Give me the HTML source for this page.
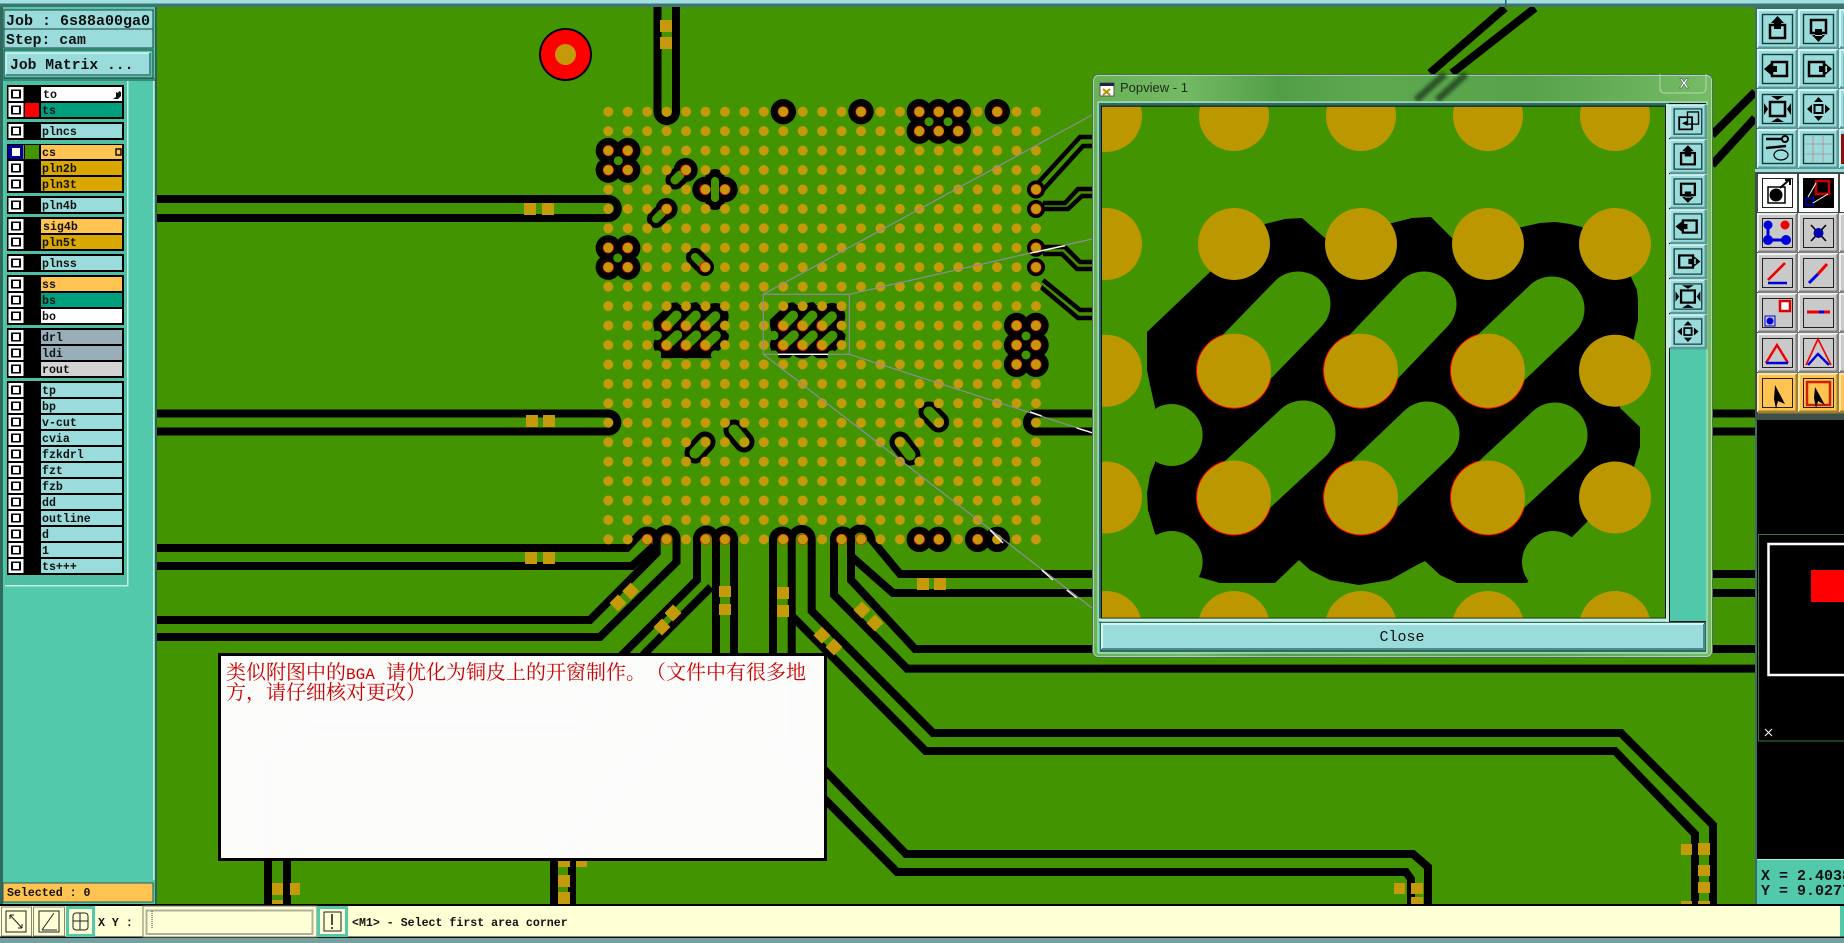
<!DOCTYPE html>
<html><head><meta charset="utf-8"><style>
html,body{margin:0;padding:0;background:#000;overflow:hidden}
svg{display:block}
.t{font-family:"Liberation Mono",monospace;font-weight:bold;font-size:11.6px;fill:#111}
.j{font-family:"Liberation Mono",monospace;font-weight:bold;font-size:15px;fill:#111}
.tr{fill:none;stroke:#000;stroke-width:8;stroke-linejoin:miter}
.sm{fill:none;stroke:#000;stroke-width:4.5}
.g{fill:#c49a0a}
.gl{fill:none;stroke:#8d8d9c;stroke-width:1.2}
.wl{fill:none;stroke:#fff;stroke-width:1.3}
.n{font-family:"Noto Serif CJK SC","Liberation Serif",serif;font-size:20px;fill:#cc0000;text-spacing-trim:space-all;font-feature-settings:"chws" 0,"halt" 0,"palt" 0}
</style></head><body>
<svg xmlns="http://www.w3.org/2000/svg" width="1844" height="943" viewBox="0 0 1844 943">
<defs>
<pattern id="dots" patternUnits="userSpaceOnUse" x="598.58" y="101.98" width="19.44" height="19.44"><circle cx="9.72" cy="9.72" r="5" fill="#c49a0a"/></pattern>
<clipPath id="view"><rect x="1102" y="106.7" width="563.5" height="511.3"/></clipPath>
<clipPath id="scr"><rect x="0" y="0" width="1844" height="943"/></clipPath>
<linearGradient id="glass" x1="0" x2="1" y1="0" y2="0"><stop offset="0" stop-color="#69b258"/><stop offset=".15" stop-color="#74b964"/><stop offset=".3" stop-color="#529e47"/><stop offset=".45" stop-color="#5ea950"/><stop offset=".7" stop-color="#57a24a"/><stop offset="1" stop-color="#76bb66"/></linearGradient>
<filter id="bl"><feGaussianBlur stdDeviation="1.6"/></filter>

<g id="cl">
<polygon fill="#000" points="1147,332 1210,272 1265,224 1285,219 1302,218 1325,238 1392,223 1412,218 1431,217 1452,238 1522,227 1540,223 1555,222 1570,224 1582,227 1631,277 1637,290 1638,300 1638,320 1634,338 1620,408 1640,427 1640,447 1634,467 1586,523 1572,537 1555,540 1527,583 1457,583 1440,575 1425,561 1415,566 1390,580 1359,585 1330,580 1310,570 1299,560 1275,583 1220,583 1199,577 1202,560 1155,534 1148,510 1147,493 1150,475 1155,463 1155,407 1150,385 1147,370"/>
<g fill="#f00"><circle cx="1234" cy="370.7" r="38"/><circle cx="1361" cy="370.7" r="38"/><circle cx="1488" cy="370.7" r="38"/><circle cx="1234" cy="497.5" r="38"/><circle cx="1361" cy="497.5" r="38"/><circle cx="1488" cy="497.5" r="38"/></g>
<g stroke="#429400" stroke-width="65" stroke-linecap="round" fill="none">
<path d="M1298 304L1234 370"/><path d="M1424 304L1361 370"/><path d="M1552 309L1488 370"/>
<path d="M1303 433L1234 497"/><path d="M1427 434L1361 497"/><path d="M1555 435L1488 497"/>
</g>
<g fill="#429400"><circle cx="1171.6" cy="435" r="31"/><circle cx="1171.6" cy="562" r="31"/><circle cx="1553" cy="562" r="31"/></g>
</g>

<g id="chk"><rect x="8.5" y="0" width="15" height="14" fill="#fff"/><rect x="11" y="2.5" width="10" height="9" fill="#000"/><rect x="13" y="4" width="6" height="6" fill="#fff"/></g>

<g id="bC"><rect width="39" height="38" fill="#9adcdb"/><path d="M0 38V0H39" fill="none" stroke="#d4f4f2" stroke-width="2"/><path d="M39 0V38H0" fill="none" stroke="#5a9a98" stroke-width="3"/><rect x="4.5" y="4.5" width="30" height="29" fill="none" stroke="#123c3c" stroke-width="1.4"/></g>
<g id="bG"><rect width="39" height="38" fill="#c9c9c9"/><path d="M0 38V0H39" fill="none" stroke="#eee" stroke-width="2"/><path d="M39 0V38H0" fill="none" stroke="#808080" stroke-width="3"/><rect x="4.5" y="4.5" width="30" height="29" fill="none" stroke="#222" stroke-width="1"/></g>
<g id="bW"><rect width="39" height="38" fill="#fff"/><rect x="4.5" y="4.5" width="30" height="29" fill="none" stroke="#222" stroke-width="1"/></g>
<g id="bO"><rect width="39" height="38" fill="#fec350"/><path d="M0 38V0H39" fill="none" stroke="#ffe6a8" stroke-width="2"/><path d="M39 0V38H0" fill="none" stroke="#a08030" stroke-width="3"/><rect x="4.5" y="4.5" width="30" height="29" fill="none" stroke="#222" stroke-width="1"/></g>

<g id="iU"><rect x="12" y="15" width="15" height="13" fill="none" stroke="#000" stroke-width="2.5"/><path d="M19.5 6L26 13H13Z M16 12H23V19H16Z" fill="#000"/></g>
<g id="iD"><rect x="12" y="10" width="15" height="13" fill="none" stroke="#000" stroke-width="2.5"/><path d="M19.5 32L26 25H13Z M16 19H23V26H16Z" fill="#000"/></g>
<g id="iL"><rect x="14" y="12" width="15" height="14" fill="none" stroke="#000" stroke-width="2.5"/><path d="M6 19L13 13V25Z M11 16H19V22H11Z" fill="#000"/></g>
<g id="iR"><rect x="10" y="12" width="15" height="14" fill="none" stroke="#000" stroke-width="2.5"/><path d="M33 19L26 13V25Z M20 16H28V22H20Z" fill="#000"/></g>
<g id="iE"><rect x="12" y="12" width="15" height="14" fill="none" stroke="#000" stroke-width="2.5"/><path d="M19.5 10L13 6H26Z M19.5 28L13 32H26Z M10 19L6 13V25Z M29 19L33 13V25Z" fill="#000"/></g>
<g id="iF"><rect x="15.5" y="15" width="8" height="8" fill="none" stroke="#000" stroke-width="2"/><path d="M19.5 7L15 12H24Z M19.5 31L15 26H24Z M8 19L13 14.5V23.5Z M31 19L26 14.5V23.5Z" fill="#000"/></g>
<g id="iA"><rect x="19" y="8" width="12" height="14" fill="none" stroke="#000" stroke-width="1.5"/><rect x="10" y="14" width="14" height="14" fill="none" stroke="#000" stroke-width="2"/><path d="M13 21L19 18V24Z" fill="#000"/></g>
</defs>

<g clip-path="url(#scr)">
<!-- canvas -->
<rect x="0" y="0" width="1844" height="943" fill="#000"/>
<rect x="157" y="7" width="1598" height="897" fill="#429400"/>

<!-- traces -->
<path class="tr" d="M657.5 7V111.7A9.25 9.25 0 0 0 676 111.7V7"/>
<path class="tr" d="M157 199H608.3A9.5 9.5 0 0 1 608.3 218H157"/>
<path class="tr" d="M157 413.5H608.3A9 9 0 0 1 608.3 431.5H157"/>
<path class="tr" d="M157 548H627L640 534A9.5 9.5 0 0 1 656.7 539V553L590 620H157"/>
<path class="tr" d="M157 566H632L654 546"/>
<path class="tr" d="M657 539A9.75 9.75 0 0 1 676.5 539V562L600 637H157"/>
<path class="tr" d="M268 904V755L301 715H562L697 580V539A9.5 9.5 0 0 1 716 539V669L554 830V904"/>
<path class="tr" d="M287 904V757L313.6 728H579L646 652L711 587"/>
<path class="tr" d="M716 539A9 9 0 0 1 734 539V675L572 838V904"/>
<path class="tr" d="M1411 904V879L1406 872H897L773 747V539A9.4 9.4 0 0 1 791.7 539V736L906 854H1413L1428 867V904"/>
<path class="tr" d="M792 616L925.6 751H1615L1695 834V904"/>
<path class="tr" d="M791.7 539A10 10 0 0 1 811.7 539V611L933 733H1621L1713 825V904"/>
<path class="tr" d="M1755 668.6H907L834 595V539A8.5 8.5 0 0 1 851 539V580L915 649H1755"/>
<path class="tr" d="M850 539A10.5 10.5 0 0 1 871 539L900 574H1755"/>
<path class="tr" d="M852 557L893 593H1755"/>
<path class="tr" d="M1755 413.5H1036A9 9 0 0 0 1036 431.5H1755"/>
<path class="tr" d="M1430 73L1505 8M1452 73L1535 8"/>
<path class="tr" d="M1712 135L1755 92M1712 165L1755 118"/>
<path class="sm" d="M1036 185L1080 137H1092M1043 190L1083 146H1092M1043 203H1065L1078 189H1092M1043 209H1068L1082 196H1092M1043 247H1065L1080 262H1092M1043 254H1062L1077 269H1092M1043 280L1080 310H1092M1041 287L1078 318H1092"/>

<!-- gold pads on traces -->
<g class="g">
<rect x="660" y="20" width="12" height="12"/><rect x="660" y="37" width="12" height="12"/>
<rect x="524" y="203" width="12" height="12"/><rect x="542" y="203" width="12" height="12"/>
<rect x="526" y="415" width="12" height="12"/><rect x="543" y="415" width="12" height="12"/>
<rect x="525" y="552" width="12" height="12"/><rect x="543" y="552" width="12" height="12"/>
<rect x="719" y="586" width="12" height="11"/><rect x="719" y="604" width="12" height="11"/>
<rect x="777" y="587" width="12" height="12"/><rect x="777" y="605" width="12" height="12"/>
<rect x="917" y="578" width="12" height="12"/><rect x="934" y="578" width="12" height="12"/>
<g transform="rotate(45 630.7 590.7)"><rect x="625" y="585" width="12" height="12"/></g>
<g transform="rotate(45 618 603)"><rect x="612" y="597" width="12" height="12"/></g>
<g transform="rotate(45 673 613)"><rect x="667" y="607" width="12" height="12"/></g>
<g transform="rotate(45 662 627)"><rect x="656" y="621" width="12" height="12"/></g>
<g transform="rotate(45 821.7 635)"><rect x="816" y="629" width="12" height="12"/></g>
<g transform="rotate(45 834 647)"><rect x="828" y="641" width="12" height="12"/></g>
<g transform="rotate(45 862 610)"><rect x="856" y="604" width="12" height="12"/></g>
<g transform="rotate(45 875 623)"><rect x="869" y="617" width="12" height="12"/></g>
<rect x="272" y="883" width="11" height="12"/><rect x="290" y="883" width="10" height="12"/><rect x="272" y="900" width="11" height="4"/>
<rect x="558" y="860" width="12" height="7"/><rect x="558" y="875" width="12" height="12"/><rect x="558" y="892" width="12" height="12"/><rect x="576" y="860" width="11" height="7"/>
<rect x="1394" y="883" width="11" height="11"/><rect x="1411" y="883" width="12" height="11"/><rect x="1411" y="897" width="12" height="7"/>
<rect x="1681" y="844" width="11" height="11"/><rect x="1698" y="843" width="12" height="12"/><rect x="1698" y="865" width="12" height="11"/><rect x="1698" y="882" width="12" height="11"/><rect x="1681" y="901" width="11" height="3"/><rect x="1698" y="901" width="12" height="3"/>
</g>

<!-- red via -->
<circle cx="565.5" cy="54.5" r="26.5" fill="#000"/><circle cx="565.5" cy="54.5" r="24.5" fill="#f00"/><circle cx="565.5" cy="54.5" r="10.5" class="g"/>

<!-- black ring clusters -->
<g fill="#000">
<circle cx="783.3" cy="111.7" r="12.7"/><circle cx="861" cy="111.7" r="12.7"/><circle cx="997.3" cy="111.7" r="12.7"/>
<circle cx="919.3" cy="111.7" r="12.7"/><circle cx="938.7" cy="111.7" r="12.7"/><circle cx="958.2" cy="111.7" r="12.7"/>
<circle cx="919.3" cy="131.1" r="12.7"/><circle cx="938.7" cy="131.1" r="12.7"/><circle cx="958.2" cy="131.1" r="12.7"/>
<circle cx="608.3" cy="150.6" r="12.7"/><circle cx="627.7" cy="150.6" r="12.7"/><circle cx="608.3" cy="170" r="12.7"/><circle cx="627.7" cy="170" r="12.7"/>
<circle cx="608.3" cy="247.8" r="12.7"/><circle cx="627.7" cy="247.8" r="12.7"/><circle cx="608.3" cy="267.2" r="12.7"/><circle cx="627.7" cy="267.2" r="12.7"/>
<circle cx="1016.6" cy="325.5" r="12.7"/><circle cx="1036" cy="325.5" r="12.7"/><circle cx="1016.6" cy="345" r="12.7"/><circle cx="1036" cy="345" r="12.7"/><circle cx="1016.6" cy="364.4" r="12.7"/><circle cx="1036" cy="364.4" r="12.7"/>
<circle cx="1036" cy="189.5" r="9"/><circle cx="1036" cy="209" r="9"/><circle cx="1036" cy="247.8" r="9"/><circle cx="1036" cy="267.2" r="9"/>
<circle cx="919.3" cy="539.4" r="12.7"/><circle cx="938.7" cy="539.4" r="12.7"/><circle cx="977.7" cy="539.4" r="12.7"/><circle cx="997.2" cy="539.4" r="12.7"/>
<circle cx="705" cy="189.5" r="12.7"/><circle cx="725" cy="189.5" r="12.7"/>
<circle cx="685.7" cy="170" r="12"/><circle cx="666.6" cy="209" r="11"/>
</g>
<g fill="#429400"><circle cx="929" cy="121.7" r="4.5"/><circle cx="948" cy="121.7" r="4.5"/><circle cx="618.3" cy="160.7" r="4.5"/><circle cx="617.7" cy="258" r="4.5"/><circle cx="1026" cy="336" r="4.5"/><circle cx="1026" cy="355" r="4.5"/></g>

<!-- oval loops -->
<g fill="none" stroke="#000" stroke-width="21" stroke-linecap="round">
<path d="M685.7 170L675 180" stroke-width="19"/><path d="M715 179V200" stroke-width="20"/><path d="M666.6 209L656 219" stroke-width="18"/><path d="M705 267L695 257" stroke-width="18"/>
<path d="M705 442L695 453" stroke-width="21"/><path d="M744 442L734 430" stroke-width="21"/><path d="M900 442L910 455" stroke-width="21"/><path d="M938.7 422L929 412" stroke-width="21"/>
</g>
<g fill="none" stroke="#429400" stroke-width="9" stroke-linecap="round">
<path d="M680 175L675 180"/><path d="M715 181V198" stroke-width="8"/><path d="M662 213L656 219" stroke-width="8"/><path d="M705 267L695 257" stroke-width="8"/>
<path d="M705 442L695 453" stroke-width="11"/><path d="M744 442L734 430" stroke-width="11"/><path d="M900 442L910 455" stroke-width="11"/><path d="M938.7 422L929 412" stroke-width="11"/>
</g>

<!-- hatch clusters -->
<use href="#cl" transform="translate(783.3 325.7) scale(.153) translate(-1234 -370.7)"/>
<use href="#cl" transform="translate(666.7 325.7) scale(.153) translate(-1234 -370.7)"/>
<rect x="661" y="351" width="50" height="7" fill="#000"/>

<!-- red pad halos -->
<g fill="#f00">
<circle cx="783.3" cy="111.7" r="5.5"/><circle cx="861" cy="111.7" r="5.5"/><circle cx="997.3" cy="111.7" r="5.5"/><circle cx="919.3" cy="111.7" r="5.5"/><circle cx="938.7" cy="111.7" r="5.5"/><circle cx="958.2" cy="111.7" r="5.5"/><circle cx="919.3" cy="131.1" r="5.5"/><circle cx="938.7" cy="131.1" r="5.5"/><circle cx="958.2" cy="131.1" r="5.5"/>
<circle cx="608.3" cy="150.6" r="5.5"/><circle cx="627.7" cy="150.6" r="5.5"/><circle cx="608.3" cy="170" r="5.5"/><circle cx="627.7" cy="170" r="5.5"/><circle cx="608.3" cy="247.8" r="5.5"/><circle cx="627.7" cy="247.8" r="5.5"/><circle cx="608.3" cy="267.2" r="5.5"/><circle cx="627.7" cy="267.2" r="5.5"/>
<circle cx="1016.6" cy="325.5" r="5.5"/><circle cx="1036" cy="325.5" r="5.5"/><circle cx="1016.6" cy="345" r="5.5"/><circle cx="1036" cy="345" r="5.5"/><circle cx="1016.6" cy="364.4" r="5.5"/><circle cx="1036" cy="364.4" r="5.5"/>
<circle cx="1036" cy="189.5" r="5.5"/><circle cx="1036" cy="209" r="5.5"/><circle cx="1036" cy="247.8" r="5.5"/><circle cx="1036" cy="267.2" r="5.5"/>
<circle cx="705" cy="189.5" r="5.5"/><circle cx="725" cy="189.5" r="5.5"/><circle cx="685.7" cy="170" r="5.5"/><circle cx="666.6" cy="209" r="5.5"/><circle cx="705" cy="267" r="5.5"/>
<circle cx="919.3" cy="539.4" r="5.5"/><circle cx="938.7" cy="539.4" r="5.5"/><circle cx="977.7" cy="539.4" r="5.5"/><circle cx="647.2" cy="539.4" r="5.5"/><circle cx="666.6" cy="539.4" r="5.5"/><circle cx="705.5" cy="539.4" r="5.5"/><circle cx="725" cy="539.4" r="5.5"/><circle cx="783.3" cy="539.4" r="5.5"/><circle cx="802.7" cy="539.4" r="5.5"/><circle cx="841.6" cy="539.4" r="5.5"/><circle cx="861" cy="539.4" r="5.5"/>
</g>

<!-- BGA dots -->
<rect x="598.58" y="101.98" width="447.12" height="447.12" fill="url(#dots)"/>

<!-- zoom guide -->
<rect class="gl" x="763.3" y="294.3" width="86" height="60"/>
<path class="gl" d="M763.3 294.3L1092 115M849.3 294.3L1092 239M849.3 354.3L1092 432.7M763.3 354.3L1092 608"/>
<path class="wl" d="M1030 253.3L1065 245.7M1030 411.7L1041.7 416M1076.7 428L1092 432.7M990 530L1003 543M1041.7 570L1053 580M1066.7 590L1076.7 598M778 354.3H828"/>

<!-- note -->
<rect x="219.5" y="654.5" width="606" height="205" fill="#fff" fill-opacity=".985" stroke="#000" stroke-width="3"/>
<text class="n" x="226" y="679" xml:space="preserve">类似附图中的<tspan font-family="'Liberation Mono',monospace" font-size="16">BGA</tspan><tspan x="386">请优化为铜皮上的开窗制作。</tspan><tspan x="646">（文件中有很多地</tspan></text>
<text class="n" x="226" y="699">方，<tspan x="266">请仔细核对更改）</tspan></text>

<!-- popup window -->
<rect x="1092.5" y="74.5" width="620" height="583" rx="6" fill="url(#glass)" stroke="#47705a"/>
<rect x="1093.5" y="75.5" width="618" height="581" rx="5" fill="none" stroke="#fff" stroke-opacity=".45"/>
<path d="M1416 100L1445 74M1437 100L1466 74" stroke="#1c3a1c" stroke-width="7" fill="none" filter="url(#bl)" opacity=".75"/>
<rect x="1100" y="83" width="14" height="13" fill="#fff" stroke="#555"/><rect x="1100" y="83" width="14" height="3" fill="#224"/><path d="M1103 89L1110 95M1110 89L1103 95" stroke="#b09000" stroke-width="2"/>
<text x="1120" y="92" font-family="'Liberation Sans',sans-serif" font-size="13" fill="#1d2b1d">Popview - 1</text>
<path d="M1660 74V88Q1660 93 1665 93H1700Q1706 93 1706 88V74" fill="none" stroke="#cfe8cf" stroke-opacity=".7"/>
<text x="1684" y="88" text-anchor="middle" font-family="'Liberation Sans',sans-serif" font-weight="bold" font-size="14" fill="#fff" stroke="#234" stroke-width=".4">X</text>

<rect x="1098" y="102" width="609" height="551" fill="#4fc9a9" stroke="#c6e8d8" stroke-width="1"/>
<rect x="1099" y="103" width="607" height="4" fill="#2f6a5c"/>
<rect x="1099" y="103" width="3" height="520" fill="#2f6a5c"/>
<g clip-path="url(#view)">
<rect x="1102" y="106" width="564" height="513" fill="#429400"/>
<use href="#cl"/>
<g fill="#bd9700">
<circle cx="1106" cy="116" r="36"/><circle cx="1234" cy="116" r="35"/><circle cx="1361" cy="116" r="35"/><circle cx="1488" cy="116" r="35"/><circle cx="1615" cy="116" r="35"/>
<circle cx="1106" cy="244" r="36"/><circle cx="1234" cy="244" r="36"/><circle cx="1361" cy="244" r="36"/><circle cx="1488" cy="244" r="36"/><circle cx="1615" cy="244" r="36"/>
<circle cx="1106" cy="370.7" r="36"/><circle cx="1234" cy="370.7" r="37"/><circle cx="1361" cy="370.7" r="37"/><circle cx="1488" cy="370.7" r="37"/><circle cx="1615" cy="370.7" r="36"/>
<circle cx="1106" cy="497.5" r="36"/><circle cx="1234" cy="497.5" r="37"/><circle cx="1361" cy="497.5" r="37"/><circle cx="1488" cy="497.5" r="37"/><circle cx="1615" cy="497.5" r="36"/>
<circle cx="1106" cy="627" r="36"/><circle cx="1234" cy="627" r="36"/><circle cx="1361" cy="627" r="36"/><circle cx="1488" cy="627" r="36"/><circle cx="1615" cy="627" r="36"/>
</g>
</g>
<rect x="1101.5" y="106.2" width="564" height="512" fill="none" stroke="#111" stroke-width="1"/>
<rect x="1666" y="104" width="3" height="518" fill="#c6eee0"/>
<rect x="1099" y="618.5" width="570" height="3" fill="#c6eee0"/>
<rect x="1669" y="103" width="37" height="519" fill="#111"/>
<rect x="1670" y="349" width="36" height="272" fill="#4fc9a9"/>
<g transform="translate(1670 105) scale(.92 .87)"><use href="#bC"/><use href="#iA"/></g>
<g transform="translate(1670 140) scale(.92 .87)"><use href="#bC"/><use href="#iU"/></g>
<g transform="translate(1670 175) scale(.92 .87)"><use href="#bC"/><use href="#iD"/></g>
<g transform="translate(1670 210) scale(.92 .87)"><use href="#bC"/><use href="#iL"/></g>
<g transform="translate(1670 245) scale(.92 .87)"><use href="#bC"/><use href="#iR"/></g>
<g transform="translate(1670 280) scale(.92 .87)"><use href="#bC"/><use href="#iE"/></g>
<g transform="translate(1670 315) scale(.92 .87)"><use href="#bC"/><use href="#iF"/></g>
<rect x="1100" y="622" width="606" height="30" fill="#2f6a5c"/>
<rect x="1102" y="624" width="602" height="25" fill="#9adcdb"/>
<path d="M1102 649V624H1704" fill="none" stroke="#d6f5f3" stroke-width="2"/>
<path d="M1704 624V649H1102" fill="none" stroke="#4f8a88" stroke-width="2"/>
<text x="1402" y="641" text-anchor="middle" font-family="'Liberation Mono',monospace" font-size="15" fill="#111">Close</text>

<!-- top bar -->
<rect x="0" y="0" width="1844" height="3.5" fill="#a2dfdf"/>
<rect x="0" y="3.5" width="1844" height="3.5" fill="#3f7474"/>
<rect x="1505" y="0" width="1.5" height="7" fill="#2f5f60"/>

<!-- left panel -->
<rect x="0" y="7" width="157" height="897" fill="#52c9ab"/>
<rect x="0" y="7" width="3" height="897" fill="#2f6a5c"/>
<rect x="155" y="7" width="2" height="897" fill="#2f5f55"/>
<rect x="153" y="80" width="1.5" height="800" fill="#bfeee0"/>
<rect x="3" y="78" width="152" height="3" fill="#3b8c78"/>
<rect x="5" y="81" width="122" height="504" fill="#4fbfa3"/>
<rect x="127" y="81" width="1.5" height="505" fill="#c4f0e2"/>
<rect x="5" y="585" width="123" height="1.5" fill="#c4f0e2"/>
<rect x="4" y="10" width="149" height="19" fill="#9adcdb" stroke="#1d3d3d"/>
<rect x="4" y="29" width="149" height="19" fill="#9adcdb" stroke="#1d3d3d"/>
<text class="j" x="6" y="25">Job : 6s88a00ga0</text>
<text class="j" x="6" y="44" style="font-size:14.8px">Step: cam</text>
<rect x="4" y="50" width="149" height="28" fill="#52c9ab" stroke="#1d3d3d"/>
<rect x="6" y="53" width="144" height="22" fill="#9adcdb"/>
<path d="M6 75V53H150" fill="none" stroke="#d6f5f3" stroke-width="1.5"/><path d="M150 53V75H6" fill="none" stroke="#4f8a88" stroke-width="2"/>
<text class="j" x="10" y="69" style="font-size:14.7px">Job Matrix ...</text>

<!-- layer groups -->
<g fill="#000">
<rect x="7" y="85" width="117" height="34"/><rect x="7" y="122" width="117" height="18"/><rect x="7" y="144" width="117" height="49"/><rect x="7" y="196" width="117" height="18"/><rect x="7" y="217" width="117" height="34"/><rect x="7" y="254" width="117" height="18"/><rect x="7" y="275" width="117" height="50"/><rect x="7" y="328" width="117" height="50"/><rect x="7" y="381" width="117" height="194"/>
</g>
<g>
<rect x="41" y="87" width="81" height="14" fill="#fff"/><rect x="41" y="103" width="81" height="14" fill="#009f7e"/>
<rect x="41" y="124" width="81" height="14" fill="#9adcdb"/>
<rect x="41" y="145" width="81" height="14" fill="#fec350"/><rect x="41" y="161" width="81" height="14" fill="#d8a800"/><rect x="41" y="177" width="81" height="14" fill="#d8a800"/>
<rect x="41" y="198" width="81" height="14" fill="#9adcdb"/>
<rect x="41" y="219" width="81" height="14" fill="#fec350"/><rect x="41" y="235" width="81" height="14" fill="#d8a800"/>
<rect x="41" y="256" width="81" height="14" fill="#9adcdb"/>
<rect x="41" y="277" width="81" height="14" fill="#fec350"/><rect x="41" y="293" width="81" height="14" fill="#009f7e"/><rect x="41" y="309" width="81" height="14" fill="#fff"/>
<rect x="41" y="330" width="81" height="14" fill="#98aeb8"/><rect x="41" y="346" width="81" height="14" fill="#98aeb8"/><rect x="41" y="362" width="81" height="14" fill="#d3d3d3"/>
<g fill="#9adcdb"><rect x="41" y="383" width="81" height="14"/><rect x="41" y="399" width="81" height="14"/><rect x="41" y="415" width="81" height="14"/><rect x="41" y="431" width="81" height="14"/><rect x="41" y="447" width="81" height="14"/><rect x="41" y="463" width="81" height="14"/><rect x="41" y="479" width="81" height="14"/><rect x="41" y="495" width="81" height="14"/><rect x="41" y="511" width="81" height="14"/><rect x="41" y="527" width="81" height="14"/><rect x="41" y="543" width="81" height="14"/><rect x="41" y="559" width="81" height="14"/></g>
<rect x="25" y="103" width="14" height="14" fill="#f00"/><rect x="25" y="145" width="14" height="14" fill="#429400"/>
</g>
<use href="#chk" y="87"/><use href="#chk" y="103"/><use href="#chk" y="124"/><use href="#chk" y="145"/><use href="#chk" y="161"/><use href="#chk" y="177"/><use href="#chk" y="198"/><use href="#chk" y="219"/><use href="#chk" y="235"/><use href="#chk" y="256"/><use href="#chk" y="277"/><use href="#chk" y="293"/><use href="#chk" y="309"/><use href="#chk" y="330"/><use href="#chk" y="346"/><use href="#chk" y="362"/><use href="#chk" y="383"/><use href="#chk" y="399"/><use href="#chk" y="415"/><use href="#chk" y="431"/><use href="#chk" y="447"/><use href="#chk" y="463"/><use href="#chk" y="479"/><use href="#chk" y="495"/><use href="#chk" y="511"/><use href="#chk" y="527"/><use href="#chk" y="543"/><use href="#chk" y="559"/>
<rect x="8" y="145" width="15" height="14" fill="#000090"/><rect x="12" y="148" width="8" height="8" fill="#fff"/>
<path d="M113 99L116 97L116 92L118 93L119 91L121 92L121 96L118 99Z" fill="#111"/>
<rect x="116" y="149" width="5" height="6" fill="none" stroke="#111" stroke-width="1.5"/>
<g class="t">
<text x="43" y="98">to</text><text x="42" y="114">ts</text><text x="42" y="135">plncs</text><text x="42" y="156">cs</text><text x="42" y="172">pln2b</text><text x="42" y="188">pln3t</text><text x="42" y="209">pln4b</text><text x="43" y="230">sig4b</text><text x="42" y="246">pln5t</text><text x="42" y="267">plnss</text><text x="42" y="288">ss</text><text x="42" y="304">bs</text><text x="42" y="320">bo</text><text x="42" y="341">drl</text><text x="42" y="357">ldi</text><text x="42" y="373">rout</text>
<text x="42" y="394">tp</text><text x="42" y="410">bp</text><text x="42" y="426">v-cut</text><text x="42" y="442">cvia</text><text x="42" y="458">fzkdrl</text><text x="42" y="474">fzt</text><text x="42" y="490">fzb</text><text x="42" y="506">dd</text><text x="42" y="522">outline</text><text x="42" y="538">d</text><text x="42" y="554">1</text><text x="42" y="570">ts+++</text>
</g>
<rect x="3" y="883" width="150" height="19" fill="#fec350" stroke="#2a5a50"/>
<text class="t" x="7" y="896">Selected : 0</text>

<!-- right toolbar -->
<rect x="1755" y="7" width="89" height="413" fill="#3c6f68"/>
<use href="#bC" x="1758" y="10"/><use href="#iU" x="1758" y="10"/><use href="#bC" x="1799" y="10"/><use href="#iD" x="1799" y="10"/><use href="#bC" x="1840" y="10"/>
<use href="#bC" x="1758" y="50"/><use href="#iL" x="1758" y="50"/><use href="#bC" x="1799" y="50"/><use href="#iR" x="1799" y="50"/><use href="#bC" x="1840" y="50"/>
<use href="#bC" x="1758" y="90"/><use href="#iE" x="1758" y="90"/><use href="#bC" x="1799" y="90"/><use href="#iF" x="1799" y="90"/><use href="#bC" x="1840" y="90"/>
<use href="#bC" x="1758" y="130"/><use href="#bC" x="1799" y="130"/><use href="#bC" x="1840" y="130"/>
<rect x="1841" y="134" width="3" height="30" fill="#8a1010"/>
<g transform="translate(1758 130)"><path d="M8 9H24M8 18L28 16" stroke="#000" stroke-width="2.5"/><circle cx="27" cy="9" r="3" fill="none" stroke="#000" stroke-width="2"/><ellipse cx="23" cy="25" rx="7" ry="5" fill="none" stroke="#000" stroke-width="1.2"/></g>
<g transform="translate(1799 130)" stroke="#b09aa0" stroke-width="1" fill="none"><path d="M14 5V33M24 5V33M5 14H34M5 24H34"/></g>
<rect x="1755" y="169" width="89" height="3" fill="#9adcdb"/>
<rect x="1755" y="172" width="89" height="248" fill="#3c4f48"/>
<use href="#bW" x="1758" y="174"/><use href="#bW" x="1799" y="174"/><use href="#bW" x="1840" y="174"/>
<g transform="translate(1758 174)"><circle cx="18" cy="21" r="6.5" fill="#000"/><rect x="10" y="13" width="17" height="16" fill="none" stroke="#000" stroke-width="1.5"/><path d="M22 14L31 6M27 6H32V11" stroke="#000" stroke-width="2" fill="none"/></g>
<g transform="translate(1799 174)"><rect x="4" y="4" width="31" height="30" fill="#000"/><rect x="17" y="7" width="13" height="13" fill="none" stroke="#c00" stroke-width="2.5"/><rect x="7" y="24" width="7" height="7" fill="none" stroke="#00c" stroke-width="1.5"/><path d="M9 23L17 9M14 29L29 20" stroke="#fff"/></g>
<use href="#bG" x="1758" y="214"/><use href="#bG" x="1799" y="214"/><use href="#bG" x="1840" y="214"/>
<g transform="translate(1758 214)"><path d="M10 11V26H29" stroke="#00d" stroke-width="3" fill="none"/><circle cx="10" cy="11" r="4.5" fill="#00d"/><circle cx="10" cy="26" r="5" fill="#00d"/><circle cx="28" cy="26" r="5" fill="#00d"/><circle cx="27" cy="11" r="4.5" fill="#e00"/></g>
<g transform="translate(1799 214)"><path d="M12 11L27 27M27 11L12 27" stroke="#000" stroke-width="1.6"/><circle cx="19.5" cy="19" r="5" fill="#00a"/></g>
<use href="#bG" x="1758" y="254"/><use href="#bG" x="1799" y="254"/><use href="#bG" x="1840" y="254"/>
<g transform="translate(1758 254)"><path d="M10 26L27 9" stroke="#e00" stroke-width="2.6"/><path d="M10 29H29" stroke="#00d" stroke-width="2.6"/></g>
<g transform="translate(1799 254)"><path d="M10 29L19 20" stroke="#00d" stroke-width="3"/><path d="M19 20L28 10" stroke="#e00" stroke-width="3"/></g>
<use href="#bG" x="1758" y="294"/><use href="#bG" x="1799" y="294"/><use href="#bG" x="1840" y="294"/>
<g transform="translate(1758 294)"><rect x="22" y="7" width="10" height="10" fill="#fff" stroke="#d00" stroke-width="2.5"/><rect x="7" y="22" width="10" height="10" fill="none" stroke="#00d" stroke-width="1"/><circle cx="12" cy="27" r="3.5" fill="#00d"/></g>
<path d="M1807 312H1819" stroke="#e00" stroke-width="3"/><path d="M1819 312H1824" stroke="#00d" stroke-width="3"/><path d="M1824 312H1830" stroke="#e00" stroke-width="3"/>
<use href="#bG" x="1758" y="334"/><use href="#bG" x="1799" y="334"/><use href="#bG" x="1840" y="334"/>
<g transform="translate(1758 334)" fill="none"><path d="M8 29L19 11L30 29" stroke="#e00" stroke-width="2.4"/><path d="M8 29H30" stroke="#00d" stroke-width="2.4"/></g>
<g transform="translate(1799 334)" fill="none"><path d="M7 31L19 5L32 31" stroke="#e00" stroke-width="1.6"/><path d="M9 31L19 20L30 31" stroke="#00d" stroke-width="2.4"/></g>
<use href="#bO" x="1758" y="374"/><use href="#bO" x="1799" y="374"/><use href="#bO" x="1840" y="374"/>
<path d="M1775 385L1785 404L1778 401L1776 409L1774 399Z" fill="#000"/>
<rect x="1807" y="382" width="23" height="23" fill="none" stroke="#d02000" stroke-width="2.5"/><path d="M1815 387L1825 405L1818 401L1816 408L1814 398Z" fill="#000"/>

<!-- right black / navigator -->
<rect x="1757" y="420" width="87" height="440" fill="#000"/>
<rect x="1755" y="420" width="2" height="484" fill="#3c6f68"/>
<path d="M1844 534.5H1758.5V741H1844" fill="none" stroke="#3c7a3c"/>
<rect x="1768.5" y="544" width="80" height="131" fill="none" stroke="#fff" stroke-width="2.5"/>
<rect x="1811" y="570" width="33" height="32" fill="#f00"/>
<path d="M1765 729L1772 736M1772 729L1765 736" stroke="#fff"/>
<rect x="1757" y="859" width="87" height="45" fill="#52c9ab"/>
<rect x="1757" y="859" width="87" height="1" fill="#bfeee0"/>
<text class="j" x="1761" y="880">X = 2.4038</text>
<text class="j" x="1761" y="895">Y = 9.0277</text>

<!-- bottom bar -->
<rect x="0" y="904" width="1844" height="2.5" fill="#000"/>
<rect x="0" y="906" width="1840" height="32" fill="#ffffd6"/>
<rect x="1840" y="906" width="4" height="32" fill="#52c9ab"/>
<rect x="0" y="938" width="1844" height="5" fill="#74a0a0"/>
<rect x="0" y="936.5" width="1844" height="1.5" fill="#111"/>
<g fill="#ffffd6" stroke="#8a8a70"><rect x="1.5" y="907" width="30" height="29"/><rect x="33.5" y="907" width="31" height="29"/></g>
<rect x="6" y="911" width="20" height="21" fill="none" stroke="#222"/><path d="M10 915L22 928M10 915V919M10 915H14M22 928H18M22 928V924" stroke="#222" fill="none"/>
<rect x="39" y="911" width="20" height="21" fill="none" stroke="#222"/><path d="M42 930L54 913M42 930H57" stroke="#222" fill="none"/>
<rect x="66" y="906" width="29" height="31" fill="#52c9ab"/><rect x="69" y="909" width="23" height="25" fill="#ffffd6"/><rect x="73" y="913" width="15" height="17" rx="3" fill="none" stroke="#222"/><path d="M73 921H88M80 913V930" stroke="#222"/>
<text class="t" x="98" y="926">X Y :</text>
<rect x="143" y="906" width="174" height="31" fill="#ffffd6" stroke="#7d7d70"/>
<rect x="146.5" y="910.5" width="166" height="23.5" fill="none" stroke="#b0b09c" stroke-width="2"/>
<path d="M152 911V928" stroke="#333" stroke-dasharray="1 1"/>
<rect x="317" y="906" width="31" height="31" fill="#52c9ab"/><rect x="320" y="909" width="25" height="25" fill="#ffffd6"/><rect x="324" y="912" width="17" height="19" fill="none" stroke="#222"/><path d="M332 914V925M332 927V929" stroke="#222" stroke-width="1.6"/>
<text class="t" x="352" y="926">&lt;M1&gt; - Select first area corner</text>
</g>
</svg>
</body></html>
